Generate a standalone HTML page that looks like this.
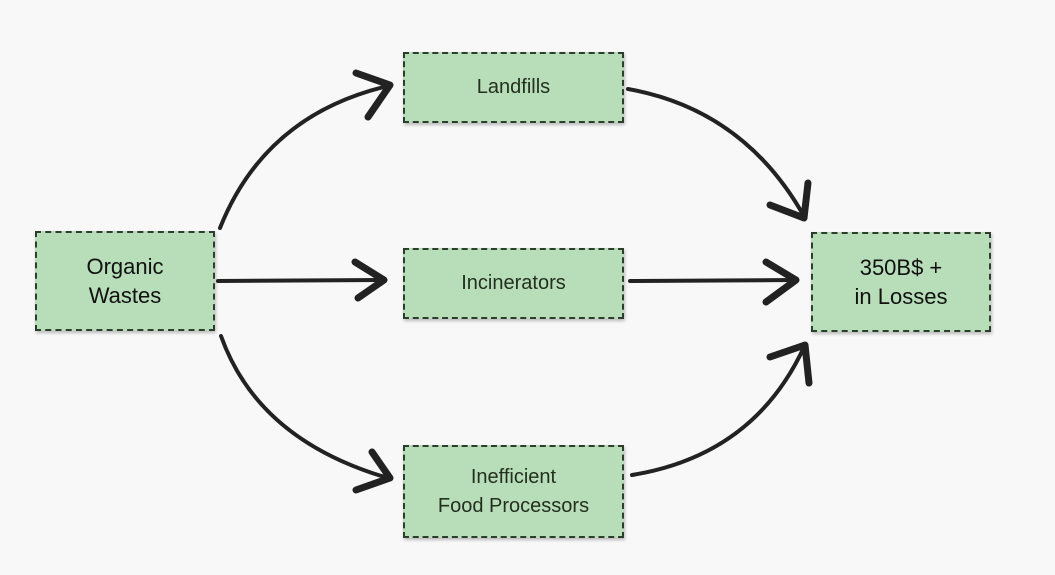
<!DOCTYPE html>
<html><head><meta charset="utf-8"><style>
html,body{margin:0;padding:0;background:#f8f8f8;}
body{width:1055px;height:575px;position:relative;overflow:hidden;font-family:"Liberation Sans",sans-serif;}
.b{position:absolute;box-sizing:border-box;background:#b8ddb9;border:2px dashed #2f3d2f;box-shadow:1px 2px 3px rgba(0,0,0,0.25);display:flex;align-items:center;justify-content:center;text-align:center;color:#24301f;font-size:20px;line-height:29px;}
.big{font-size:22px;color:#111;}
svg{position:absolute;left:0;top:0;}
</style></head><body>
<svg width="1055" height="575" viewBox="0 0 1055 575">
<g fill="none" stroke="#222" stroke-linecap="round" stroke-linejoin="round">
<path d="M220 228 Q265 115 388 86" stroke-width="4"/>
<path d="M356 73 L390 85 L368 117" stroke-width="7"/>
<path d="M218 281 L384 280" stroke-width="4"/>
<path d="M355 262 L384 280 L358 298" stroke-width="7"/>
<path d="M221 336 Q258 440 388 478" stroke-width="4"/>
<path d="M372 452 L390 478 L356 490" stroke-width="7"/>
<path d="M628 89 Q745 110 805 218" stroke-width="4"/>
<path d="M770 205 L804 218 L808 183" stroke-width="7"/>
<path d="M630 281 L796 280" stroke-width="4"/>
<path d="M766 262 L796 280 L766 302" stroke-width="7"/>
<path d="M632 475 Q755 455 805 345" stroke-width="4"/>
<path d="M770 357 L805 345 L809 383" stroke-width="7"/>
</g>
</svg>
<div class="b big" style="left:35px;top:231px;width:180px;height:100px;">Organic<br>Wastes</div>
<div class="b" style="left:403px;top:52px;width:221px;height:71px;">Landfills</div>
<div class="b" style="left:403px;top:248px;width:221px;height:71px;">Incinerators</div>
<div class="b" style="left:403px;top:445px;width:221px;height:93px;">Inefficient<br>Food Processors</div>
<div class="b big" style="left:811px;top:232px;width:180px;height:100px;">350B$ +<br>in Losses</div>
</body></html>
